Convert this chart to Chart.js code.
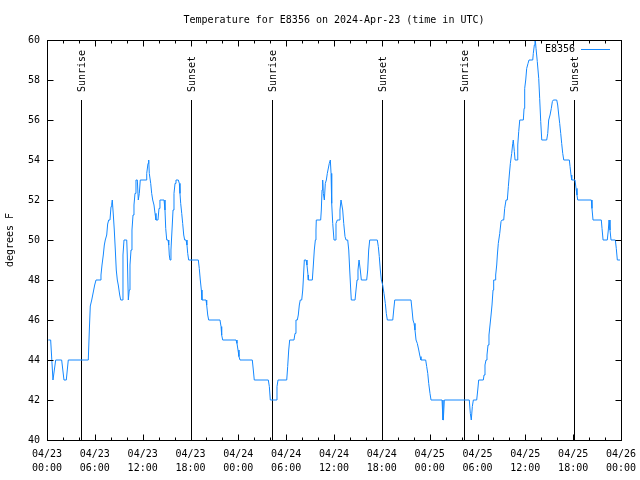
<!DOCTYPE html>
<html>
<head>
<meta charset="utf-8">
<script src="https://cdn.jsdelivr.net/npm/chart.js@4.4.1/dist/chart.umd.min.js"></script>
<style>
  html, body { margin: 0; padding: 0; background: #fff; }
</style>
</head>
<body>
<canvas id="lineChart" width="640" height="480"></canvas>
<script>
// hours since 04/23 00:00 UTC and temperature (degrees F)
var hours = [
    0.16, 0.46, 0.75, 1.09, 1.84, 2.13, 2.42, 2.67, 5.18, 5.31, 5.43, 5.61, 5.98, 6.15, 6.65, 6.77,
    6.90, 7.06, 7.19, 7.31, 7.49, 7.61, 7.74, 7.90, 8.03, 8.12, 8.19, 8.32, 8.44, 8.57, 8.69, 8.82,
    8.94, 9.12, 9.25, 9.50, 9.53, 9.66, 10.00, 10.07, 10.20, 10.32, 10.41, 10.54, 10.66, 10.79, 10.91, 11.04,
    11.16, 11.33, 11.45, 11.58, 11.70, 12.42, 12.51, 12.67, 12.76, 12.83, 13.01, 13.13, 13.26, 13.42, 13.55, 13.67,
    13.92, 14.05, 14.17, 14.68, 14.80, 14.89, 15.02, 15.18, 15.27, 15.34, 15.43, 15.55, 15.68, 15.81, 15.93, 16.06,
    16.18, 16.47, 16.60, 16.68, 16.77, 16.90, 17.02, 17.15, 17.27, 17.44, 17.56, 17.65, 17.77, 18.98, 19.10, 19.23,
    19.36, 19.44, 19.95, 20.03, 20.16, 20.28, 21.70, 21.83, 21.91, 22.04, 23.71, 23.83, 23.96, 24.08, 24.21, 25.75,
    25.88, 26.00, 27.76, 27.89, 28.01, 28.73, 28.85, 28.98, 30.07, 30.19, 30.32, 30.44, 30.98, 31.11, 31.23, 31.40,
    31.52, 31.65, 31.77, 31.95, 32.08, 32.15, 32.28, 32.49, 32.61, 32.74, 32.78, 33.28, 33.41, 33.53, 33.66, 33.74,
    33.78, 34.33, 34.41, 34.50, 34.58, 34.66, 34.79, 34.91, 35.04, 35.16, 35.41, 35.54, 35.63, 35.71, 35.84, 36.00,
    36.13, 36.25, 36.42, 36.63, 36.75, 36.88, 36.97, 37.09, 37.22, 37.38, 37.51, 37.72, 37.85, 37.97, 38.10, 38.17,
    38.64, 38.76, 38.89, 39.01, 39.14, 39.18, 39.30, 39.43, 40.10, 40.23, 40.35, 40.48, 41.43, 41.56, 41.68, 41.81,
    41.94, 42.11, 42.27, 42.44, 42.56, 42.69, 43.37, 43.49, 43.62, 45.66, 45.79, 45.91, 46.04, 46.16, 46.29, 46.45,
    46.63, 46.79, 46.91, 47.50, 47.63, 47.76, 47.88, 48.04, 48.17, 49.55, 49.67, 49.71, 49.84, 52.97, 53.10, 53.22,
    53.35, 53.48, 53.90, 54.03, 54.15, 54.73, 54.82, 54.94, 55.07, 55.19, 55.32, 55.44, 55.57, 55.70, 55.82, 55.95,
    56.03, 56.20, 56.28, 56.41, 56.49, 56.61, 56.79, 56.95, 57.08, 57.29, 57.41, 57.58, 57.74, 57.87, 57.99, 58.12,
    58.29, 58.42, 58.49, 58.62, 58.71, 58.96, 59.05, 59.17, 59.30, 59.75, 59.84, 59.92, 60.05, 60.17, 60.34, 60.46,
    60.93, 61.00, 61.13, 61.21, 61.25, 61.34, 61.50, 61.68, 61.80, 61.93, 62.06, 62.68, 62.81, 62.93, 63.10, 63.26,
    63.39, 63.51, 63.94, 64.06, 64.19, 64.31, 64.44, 64.56, 64.69, 64.82, 65.52, 65.61, 65.73, 65.82, 66.23, 66.36,
    66.48, 66.57, 68.28, 68.36, 68.49, 69.53, 69.62, 69.75, 70.28, 70.41, 70.50, 70.62, 70.75, 71.29, 71.41, 71.54,
    71.88
];
var temps = [
    45, 45, 43, 44, 44, 43, 43, 44, 44, 45.5, 46.7, 47, 47.75, 48, 48, 48.25,
    48.75, 49.25, 49.75, 50, 50.25, 50.8, 51, 51, 51.67, 51.8, 52, 51.25, 50.5, 49.5, 48.5, 48,
    47.75, 47.25, 47, 47, 49.25, 50, 50, 49.25, 47, 47.5, 48.75, 49.5, 50.5, 51.25, 51.75, 52.33,
    53, 53, 52, 52.33, 53, 53, 53.33, 53.83, 54, 53.33, 52.83, 52.33, 52, 51.75, 51.33, 51,
    51, 51.58, 52, 52, 51.5, 50.58, 50, 50, 49.75, 49.25, 49, 49.5, 50.5, 51.5, 52.33, 52.83,
    53, 53, 52.83, 52.33, 51.83, 51.33, 50.83, 50.25, 50, 50, 49.75, 49.33, 49, 49, 48.58, 48,
    47.5, 47, 47, 46.75, 46.25, 46, 46, 45.67, 45.25, 45, 45, 44.83, 44.5, 44.17, 44, 44,
    43.5, 43, 43, 42.67, 42, 42, 42.67, 43, 43, 43.67, 44.5, 45, 45, 45.33, 46, 46,
    46.25, 46.75, 47, 47, 47.5, 48, 49, 49, 48.75, 48.25, 48, 48, 48.75, 49.5, 50, 50.5,
    51, 51, 51.5, 52.5, 53, 52.33, 52, 52.83, 53, 53.33, 53.83, 54, 53.33, 51.83, 50.83, 50,
    50, 50.83, 51, 51, 51.5, 52, 52, 51.5, 50.83, 50.17, 50, 50, 49.5, 48.5, 47.5, 47,
    47, 47.5, 48, 48.5, 49, 49, 48.5, 48, 48, 48.5, 49.5, 50, 50, 49.67, 49.17, 48.5,
    48, 47.75, 47.33, 46.83, 46.33, 46, 46, 46.5, 47, 47, 46.5, 46, 45.83, 45.5, 45, 44.83,
    44.5, 44.17, 44, 44, 43.67, 43.33, 42.83, 42.33, 42, 42, 41, 41, 42, 42, 41.33, 41,
    41.67, 42, 42, 42.5, 43, 43, 43.25, 43.75, 44, 44.25, 44.75, 45.25, 45.75, 46.25, 46.75, 47.5,
    48, 48, 48.25, 48.75, 49.25, 49.83, 50.33, 50.92, 51, 51, 51.58, 52, 52, 52.67, 53.25, 53.83,
    54.33, 54.83, 55, 54.42, 54, 54, 54.75, 55.42, 56, 56, 56.58, 57.58, 58, 58.58, 58.83, 59,
    59, 59.33, 59.75, 60, 60, 59.58, 58.92, 58.08, 57.08, 55.92, 55, 55, 55.33, 56, 56.25, 56.58,
    56.92, 57, 57, 56.75, 56.25, 55.83, 55.33, 54.83, 54.33, 54, 54, 53.67, 53.25, 53, 53, 52.58,
    52.25, 52, 52, 51.58, 51, 51, 50.58, 50, 50, 50.5, 51, 50.5, 50, 50, 49.58, 49,
    49
];

// sunrise / sunset markers (hours since 04/23 00:00 UTC)
var eventHours = [4.30, 18.03, 28.26, 42.06, 52.35, 66.07];
var eventNames = ["Sunrise", "Sunset", "Sunrise", "Sunset", "Sunrise", "Sunset"];

// x tick labels, one every 6 hours
var tickDates = ["04/23", "04/23", "04/23", "04/23", "04/24", "04/24", "04/24", "04/24",
                 "04/25", "04/25", "04/25", "04/25", "04/26"];
var tickTimes = ["00:00", "06:00", "12:00", "18:00", "00:00", "06:00", "12:00", "18:00",
                 "00:00", "06:00", "12:00", "18:00", "00:00"];

var seriesName = "E8356";
var chartTitle = "Temperature for E8356 on 2024-Apr-23 (time in UTC)";
var lineColor = "rgb(20,136,255)";
var monoFont = "10px 'DejaVu Sans Mono', 'Liberation Mono', monospace";

Chart.defaults.font.family = "'DejaVu Sans Mono', 'Liberation Mono', monospace";
Chart.defaults.font.size = 10;
Chart.defaults.color = "#000";

var points = hours.map(function (h, i) { return { x: h, y: temps[i] }; });

// pixel helper so frame, ticks and markers line up on the same columns
function crisp(v) { return Math.round(v) + 0.5; }

// sunrise/sunset lines, drawn under the data
var eventLines = {
    id: "eventLines",
    beforeDatasetsDraw: function (chart) {
        var ctx = chart.ctx, xs = chart.scales.x, area = chart.chartArea;
        ctx.save();
        ctx.strokeStyle = "#000";
        ctx.lineWidth = 1;
        ctx.fillStyle = "#000";
        ctx.font = monoFont;
        for (var i = 0; i < eventHours.length; i++) {
            var px = crisp(xs.getPixelForValue(eventHours[i]));
            ctx.beginPath();
            ctx.moveTo(px, area.top + 60);
            ctx.lineTo(px, area.bottom);
            ctx.stroke();
            ctx.save();
            ctx.translate(px + 1, area.top + 52);
            ctx.rotate(-Math.PI / 2);
            ctx.textAlign = "left";
            ctx.textBaseline = "middle";
            ctx.fillText(eventNames[i], 0, 0);
            ctx.restore();
        }
        ctx.restore();
    }
};

// gnuplot-like frame, inward ticks, title, legend and y label
var frame = {
    id: "frame",
    afterDraw: function (chart) {
        var ctx = chart.ctx, xs = chart.scales.x, ys = chart.scales.y, a = chart.chartArea;
        var L = crisp(a.left), R = crisp(a.right);
        var T = crisp(a.top), B = crisp(a.bottom);
        ctx.save();
        ctx.strokeStyle = "#000";
        ctx.lineWidth = 1;
        ctx.strokeRect(L, T, R - L, B - T);

        ctx.beginPath();
        for (var h = 0; h <= 72; h += 2) {
            var px = crisp(xs.getPixelForValue(h));
            var len = (h % 6 === 0) ? 6 : 3;
            ctx.moveTo(px, B); ctx.lineTo(px, B - len);
            ctx.moveTo(px, T); ctx.lineTo(px, T + len);
        }
        for (var v = 40; v <= 60; v += 2) {
            var py = crisp(ys.getPixelForValue(v));
            ctx.moveTo(L, py); ctx.lineTo(L + 6, py);
            ctx.moveTo(R, py); ctx.lineTo(R - 6, py);
        }
        ctx.stroke();

        ctx.fillStyle = "#000";
        ctx.font = monoFont;
        ctx.textAlign = "center";
        ctx.textBaseline = "middle";
        ctx.fillText(chartTitle, (a.left + a.right) / 2, 20);

        ctx.save();
        ctx.translate(10, (a.top + a.bottom) / 2);
        ctx.rotate(-Math.PI / 2);
        ctx.fillText("degrees F", 0, 0);
        ctx.restore();

        ctx.textAlign = "right";
        ctx.fillText(seriesName, a.right - 46, a.top + 9);
        ctx.strokeStyle = lineColor;
        ctx.beginPath();
        ctx.moveTo(a.right - 40, a.top + 9.5);
        ctx.lineTo(a.right - 11, a.top + 9.5);
        ctx.stroke();
        ctx.restore();
    }
};

var ctx = document.getElementById("lineChart");

var myChart = new Chart(ctx, {
    type: "line",
    data: {
        datasets: [{
            label: seriesName,
            data: points,
            borderColor: lineColor,
            borderWidth: 1,
            pointRadius: 0,
            tension: 0,
            fill: false
        }]
    },
    options: {
        responsive: false,
        animation: false,
        events: [],
        layout: { padding: { top: 40, right: 19, left: 0, bottom: 0 } },
        plugins: {
            legend: { display: false },
            title: { display: false },
            tooltip: { enabled: false }
        },
        scales: {
            x: {
                type: "linear",
                min: 0,
                max: 72,
                grid: { display: false, drawTicks: false },
                border: { display: false },
                ticks: {
                    stepSize: 6,
                    autoSkip: false,
                    maxRotation: 0,
                    padding: 7,
                    font: { lineHeight: 1.4 },
                    callback: function (value) {
                        var i = Math.round(value / 6);
                        return [tickDates[i], tickTimes[i]];
                    }
                },
                afterFit: function (scale) {
                    scale.height = 40;
                    scale.paddingLeft = 0;
                    scale.paddingRight = 0;
                }
            },
            y: {
                min: 40,
                max: 60,
                grid: { display: false, drawTicks: false },
                border: { display: false },
                ticks: { stepSize: 2, padding: 7 },
                afterFit: function (scale) {
                    scale.width = 47;
                    scale.paddingTop = 0;
                    scale.paddingBottom = 0;
                }
            }
        }
    },
    plugins: [eventLines, frame]
});
</script>
</body>
</html>
